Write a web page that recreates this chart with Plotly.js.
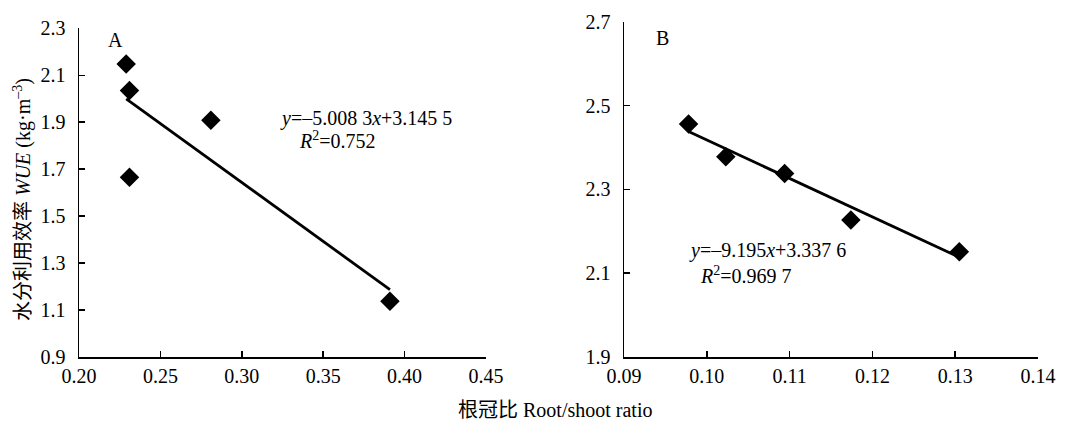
<!DOCTYPE html>
<html><head><meta charset="utf-8">
<script src="https://cdn.plot.ly/plotly-3.0.1.min.js"></script>
<style>html,body{margin:0;padding:0;background:#fff}</style>
</head><body><div id="chart" style="width:1079px;height:424px"></div>
<script>
// Panel A data
const aX = [0.229, 0.231, 0.231, 0.281, 0.391];
const aY = [2.148, 2.035, 1.666, 1.908, 1.137];
const aFitX = [0.229, 0.391];
const aFitY = [1.999, 1.187];
// Panel B data
const bX = [0.0978, 0.1023, 0.1094, 0.1174, 0.1305];
const bY = [2.456, 2.378, 2.338, 2.227, 2.151];
const bFitX = [0.0978, 0.1305];
const bFitY = [2.438, 2.138];
// Tick values
const aXTicks = [0.20, 0.25, 0.30, 0.35, 0.40, 0.45];
const aYTicks = [0.9, 1.1, 1.3, 1.5, 1.7, 1.9, 2.1, 2.3];
const bXTicks = [0.09, 0.10, 0.11, 0.12, 0.13, 0.14];
const bYTicks = [1.9, 2.1, 2.3, 2.5, 2.7];

const W = 1079, H = 424;
const px = x => x / W, py = y => 1 - y / H;
const FONT = 'Liberation Serif, Times New Roman, Noto Sans CJK SC, serif';

const mk = {symbol: 'diamond', size: 15, color: '#000'};
const traces = [
  {x: aFitX, y: aFitY, mode: 'lines', line: {color: '#000', width: 2.8}, xaxis: 'x', yaxis: 'y', hoverinfo: 'skip'},
  {x: aX, y: aY, mode: 'markers', marker: mk, xaxis: 'x', yaxis: 'y'},
  {x: bFitX, y: bFitY, mode: 'lines', line: {color: '#000', width: 2.8}, xaxis: 'x2', yaxis: 'y2', hoverinfo: 'skip'},
  {x: bX, y: bY, mode: 'markers', marker: mk, xaxis: 'x2', yaxis: 'y2'}
];

const axBase = {
  showgrid: false, zeroline: false, showline: true, linecolor: '#000', linewidth: 1.5,
  ticks: 'inside', ticklen: 6, tickwidth: 1.5, tickcolor: '#000',
  tickfont: {family: FONT, size: 20, color: '#000'}, fixedrange: true
};

const layout = {
  width: W, height: H, margin: {l: 0, r: 0, t: 0, b: 0},
  paper_bgcolor: '#fff', plot_bgcolor: '#fff', showlegend: false,
  font: {family: FONT, color: '#000'},
  xaxis: Object.assign({}, axBase, {domain: [px(79), px(486)], range: [0.2, 0.45], tickvals: aXTicks, ticktext: aXTicks.map(v => v.toFixed(2)), anchor: 'y', ticklabelstandoff: 0}),
  yaxis: Object.assign({}, axBase, {domain: [1 - 357/H, 1 - 28.3/H], range: [0.9, 2.3], tickvals: aYTicks, ticktext: aYTicks.map(v => v.toFixed(1)), anchor: 'x', ticklabelstandoff: 8}),
  xaxis2: Object.assign({}, axBase, {domain: [px(624), px(1038)], range: [0.09, 0.14], tickvals: bXTicks, ticktext: bXTicks.map(v => v.toFixed(2)), anchor: 'y2', ticklabelstandoff: 0}),
  yaxis2: Object.assign({}, axBase, {domain: [1 - 357/H, 1 - 21.7/H], range: [1.9, 2.7], tickvals: bYTicks, ticktext: bYTicks.map(v => v.toFixed(1)), anchor: 'x2', ticklabelstandoff: 8}),
  annotations: [
    {text: 'A', x: px(106), y: py(40), xref: 'paper', yref: 'paper', xanchor: 'left', yanchor: 'middle', showarrow: false, font: {size: 20}},
    {text: 'B', x: px(654), y: py(38), xref: 'paper', yref: 'paper', xanchor: 'left', yanchor: 'middle', showarrow: false, font: {size: 20}},
    {text: '<i>y</i>=–5.008 3<i>x</i>+3.145 5', x: px(278), y: py(118), xref: 'paper', yref: 'paper', xanchor: 'left', yanchor: 'middle', showarrow: false, font: {size: 20}},
    {text: '<i>R</i><sup>2</sup>=0.752', x: px(297), y: py(140), xref: 'paper', yref: 'paper', xanchor: 'left', yanchor: 'middle', showarrow: false, font: {size: 20}},
    {text: '<i>y</i>=–9.195<i>x</i>+3.337 6', x: px(687), y: py(250), xref: 'paper', yref: 'paper', xanchor: 'left', yanchor: 'middle', showarrow: false, font: {size: 20}},
    {text: '<i>R</i><sup>2</sup>=0.969 7', x: px(698), y: py(275), xref: 'paper', yref: 'paper', xanchor: 'left', yanchor: 'middle', showarrow: false, font: {size: 20}},
    {text: '水分利用效率 <i>WUE</i> (kg·m<sup>–3</sup>)', x: px(22), y: py(200), xref: 'paper', yref: 'paper', xanchor: 'center', yanchor: 'middle', textangle: -90, showarrow: false, font: {size: 20}},
    {text: '根冠比 Root/shoot ratio', x: px(555), y: py(410), xref: 'paper', yref: 'paper', xanchor: 'center', yanchor: 'middle', showarrow: false, font: {size: 20}}
  ]
};

Plotly.newPlot('chart', traces, layout, {displayModeBar: false, staticPlot: true});
</script></body></html>
